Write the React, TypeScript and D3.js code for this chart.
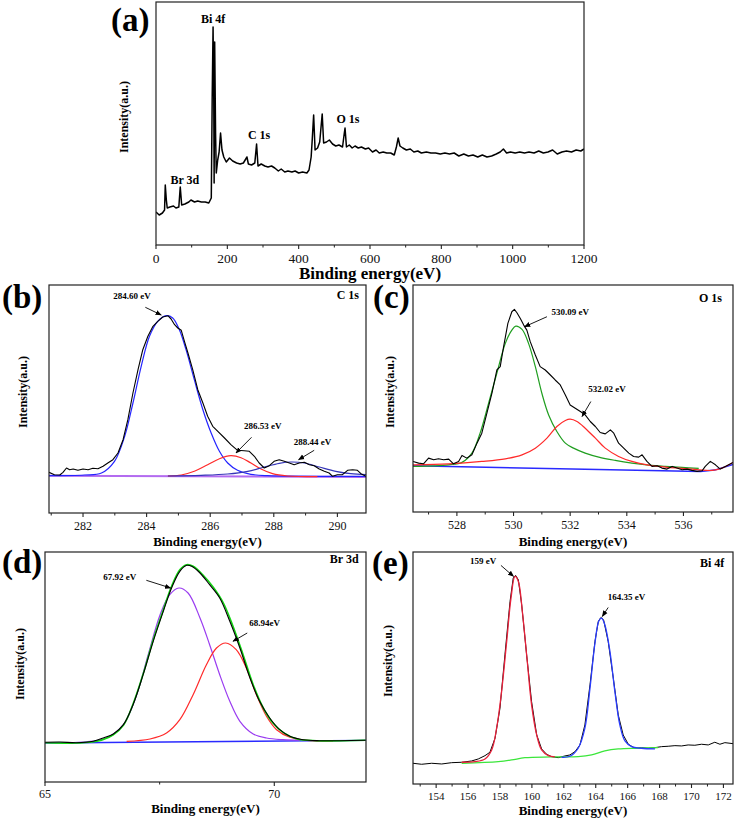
import { useEffect } from 'react';
import * as d3 from 'd3';

type Pt = [number, number];

// (a) survey spectrum, [binding energy eV, intensity a.u.]
const surveySpectrum: Pt[] = [
  [0, 33], [9, 30], [18, 32], [24, 35], [26, 60], [29, 45], [31.5, 37], [39, 38], [49, 39], [56, 37],
  [64, 38], [68, 58], [72, 40], [81, 41], [92, 43], [98, 45], [108, 43], [117, 44], [127, 43], [138, 43],
  [148, 42], [155, 47], [157.5, 145], [160, 218], [162, 145], [163, 62], [164.5, 203], [167, 112], [169, 72],
  [173, 85], [177, 93], [181, 112], [185, 95], [190, 88], [197, 83], [206, 87], [215, 84], [226, 82],
  [236, 81], [245, 82], [255, 88], [259, 81], [268, 80], [277, 82], [282, 101], [286, 79], [295, 81],
  [305, 79], [314, 78], [324, 79], [333, 77], [343, 74], [351, 76], [361, 73], [370, 74], [381, 73],
  [390, 74], [400, 72], [411, 73], [423, 72], [429, 75], [435, 88], [438, 105], [442, 130], [446, 95],
  [453, 97], [459, 103], [466, 131], [470, 102], [478, 103], [486, 105], [495, 101], [504, 99], [513, 100],
  [523, 98], [528, 112], [530, 117], [534, 98], [542, 100], [550, 97], [558, 99], [567, 97], [576, 98],
  [587, 96], [596, 97], [607, 93], [617, 95], [626, 92], [637, 93], [647, 92], [658, 92], [668, 90],
  [674, 98], [679, 107], [684, 99], [692, 97], [702, 95], [713, 96], [723, 93], [734, 94], [744, 92],
  [758, 93], [771, 92], [784, 92], [797, 91], [810, 92], [823, 91], [836, 92], [849, 89], [863, 91],
  [876, 89], [889, 90], [902, 88], [915, 90], [928, 88], [941, 89], [954, 91], [965, 93], [974, 96],
  [983, 92], [994, 93], [1007, 92], [1020, 93], [1033, 92], [1046, 93], [1060, 92], [1073, 94], [1086, 92],
  [1099, 93], [1112, 95], [1125, 91], [1138, 93], [1151, 94], [1165, 93], [1178, 95], [1191, 94], [1200, 96]
];

// (b) C 1s
const c1sRaw: Pt[] = [
  [280.93, 40.7], [281.1, 38.3], [281.27, 38], [281.37, 40.7], [281.48, 45], [281.58, 43.3], [281.69, 44],
  [281.84, 42.7], [282, 44], [282.16, 43.3], [282.31, 44.7], [282.47, 44.3], [282.63, 46.7], [282.78, 50],
  [282.94, 53.3], [283.1, 60], [283.26, 73.3], [283.41, 93.3], [283.57, 120], [283.73, 143.3], [283.88, 163.3],
  [284.04, 176.7], [284.2, 186.7], [284.35, 191.7], [284.51, 196], [284.67, 197.3], [284.77, 194], [284.88, 188.3],
  [284.98, 185], [285.09, 182.7], [285.19, 171.7], [285.3, 160], [285.45, 143.3], [285.61, 123.3], [285.77, 110],
  [285.92, 96.7], [286.08, 86.7], [286.24, 81.7], [286.45, 75], [286.65, 68.3], [286.86, 62.7], [287.07, 62.3],
  [287.23, 61.7], [287.39, 56.7], [287.54, 50], [287.7, 45], [287.86, 47.3], [288.01, 51.7], [288.17, 53.3],
  [288.33, 51.7], [288.49, 50], [288.64, 48.3], [288.8, 50], [288.96, 50.7], [289.12, 48.3], [289.27, 47.3],
  [289.43, 44], [289.59, 41.7], [289.74, 40], [289.85, 36.7], [290, 38.3], [290.16, 38.3], [290.32, 42.7],
  [290.48, 43.3], [290.63, 42.7], [290.74, 39.3], [290.9, 36.7]
];
const c1sPeakA: Pt[] = [
  [280.93, 37.3], [282.05, 38], [282.58, 40], [282.99, 51.7], [283.31, 76.7], [283.57, 110], [283.83, 146.7],
  [284.09, 176.7], [284.35, 191.7], [284.62, 197.3], [284.82, 195], [285.03, 183.3], [285.24, 163.3], [285.5, 133.3],
  [285.77, 103.3], [286.03, 80], [286.29, 61.7], [286.55, 50], [286.86, 42.7], [287.28, 38.7], [287.81, 37.3],
  [290.9, 36.7]
];
const c1sPeakB: Pt[] = [
  [284.67, 37], [285.09, 38], [285.5, 41.7], [285.92, 48.3], [286.29, 54.3], [286.65, 57.3], [286.97, 55.3],
  [287.28, 50], [287.6, 44], [287.96, 39.3], [288.43, 37], [289.37, 36.3]
];
const c1sPeakC: Pt[] = [
  [284.67, 37], [285.71, 37.7], [286.55, 39], [287.18, 41.7], [287.7, 46], [288.17, 49.7], [288.54, 51],
  [288.96, 50], [289.43, 46], [289.95, 41.7], [290.42, 39.3], [290.9, 38.3]
];
const c1sBase: Pt[] = [[280.93, 37.3], [290.9, 36]];

// (c) O 1s
const o1sRaw: Pt[] = [
  [526.45, 50.7], [526.65, 49], [526.82, 48.3], [527, 54], [527.18, 52.3], [527.35, 53.3], [527.53, 52.3],
  [527.71, 53], [527.88, 48.3], [528.06, 50.7], [528.18, 56.7], [528.35, 54], [528.53, 57.3], [528.71, 69],
  [528.88, 79], [529.06, 99], [529.24, 119.3], [529.41, 142.3], [529.53, 145.7], [529.65, 165.7], [529.8, 189],
  [529.94, 200.7], [530.03, 203], [530.12, 199.7], [530.24, 194], [530.36, 187.3], [530.47, 182.3], [530.59, 170.7],
  [530.77, 157.3], [530.94, 145.7], [531.12, 142.3], [531.3, 137.3], [531.47, 132.3], [531.65, 127.3], [531.83, 117.3],
  [532, 107.3], [532.18, 104], [532.36, 100.7], [532.53, 97.3], [532.71, 90.7], [532.89, 85.7], [533.06, 79.7],
  [533.24, 78.3], [533.42, 82.3], [533.54, 79], [533.71, 69], [533.89, 64], [534.07, 59], [534.24, 55.7],
  [534.42, 55], [534.54, 57.3], [534.71, 50.7], [534.89, 45.7], [535.07, 46.3], [535.24, 44], [535.42, 43],
  [535.6, 45.7], [535.77, 44], [535.95, 42.3], [536.13, 43], [536.3, 41.7], [536.48, 40.7], [536.66, 41.3],
  [536.77, 45.7], [536.95, 50.7], [537.13, 47.3], [537.3, 43], [537.48, 45.7], [537.75, 49.7]
];
const o1sPeakA: Pt[] = [
  [526.45, 45.7], [527.71, 47.3], [528.18, 49.7], [528.53, 59], [528.82, 79], [529.12, 109], [529.41, 139],
  [529.71, 169], [529.94, 182.3], [530.08, 186.3], [530.3, 183], [530.53, 169], [530.77, 145.7], [531, 119],
  [531.24, 97.3], [531.53, 80.7], [531.83, 69], [532.12, 64], [532.53, 59], [533.01, 55], [533.59, 51.7],
  [534.18, 49], [534.77, 47], [535.36, 45.7], [535.95, 44.7], [536.54, 43.7]
];
const o1sPeakB: Pt[] = [
  [526.45, 47.3], [527.71, 48.3], [528.88, 50.7], [529.71, 53.3], [530.3, 57.3], [530.77, 64], [531.18, 74],
  [531.53, 85.7], [531.83, 91.7], [532, 93], [532.24, 90.7], [532.53, 84], [532.89, 74], [533.24, 64],
  [533.71, 55.7], [534.18, 50.7], [534.77, 47], [535.36, 45], [535.95, 43.7], [536.54, 42.3], [537.01, 41.7],
  [537.36, 44], [537.75, 49.7]
];
const o1sBase: Pt[] = [[526.45, 46.3], [536.6, 40.7], [537.1, 42], [537.75, 47.7]];

// (d) Br 3d
const br3dRaw: Pt[] = [
  [65, 39.7], [65.33, 40], [65.69, 39.3], [66.05, 40.7], [66.27, 44], [66.49, 48], [66.71, 57.3], [66.92, 77.3],
  [67.14, 107.3], [67.36, 140.7], [67.58, 170.7], [67.76, 194], [67.94, 210.7], [68.09, 216.7], [68.2, 215.7],
  [68.38, 209], [68.59, 197.3], [68.81, 184], [69.03, 160.7], [69.25, 134], [69.47, 104], [69.68, 80.7],
  [69.9, 64], [70.12, 52.3], [70.34, 45.7], [70.63, 42.3], [70.99, 41.3], [71.43, 41.3], [71.99, 41.7]
];
const br3dEnvelope: Pt[] = [
  [65, 39.3], [65.69, 39], [66.13, 40.7], [66.49, 47.3], [66.71, 56.7], [66.92, 78], [67.14, 108], [67.36, 142.3],
  [67.58, 172.3], [67.76, 195.7], [67.94, 212.3], [68.09, 217.3], [68.23, 215.7], [68.45, 206.7], [68.67, 194.7],
  [68.89, 179], [69.1, 155.7], [69.32, 127.3], [69.54, 97.3], [69.76, 74], [69.97, 59], [70.19, 49.7],
  [70.48, 43.3], [70.92, 41.3], [71.99, 41.7]
];
const br3dPeakA: Pt[] = [
  [65, 39.3], [65.84, 40], [66.34, 44], [66.71, 57.3], [67, 87.3], [67.25, 127.3], [67.51, 167.3], [67.72, 187.3],
  [67.92, 194], [68.12, 189], [68.38, 164], [68.59, 137.3], [68.81, 107.3], [69.03, 80.7], [69.25, 60.7],
  [69.54, 48], [69.83, 44], [70.19, 42.3], [70.56, 41.7]
];
const br3dPeakB: Pt[] = [
  [66.78, 40.7], [67.29, 43], [67.65, 49], [67.94, 62.3], [68.23, 87.3], [68.52, 117.3], [68.74, 134], [68.94, 139],
  [69.17, 132.3], [69.39, 114], [69.61, 87.3], [69.83, 65.7], [70.05, 52.3], [70.34, 44.7], [70.7, 41.7], [71.28, 41]
];
const br3dBase: Pt[] = [[65, 39], [72, 41.7]];

// (e) Bi 4f
const bi4fRaw: Pt[] = [
  [152.55, 20.7], [153.09, 19.7], [153.72, 20.7], [154.35, 20], [154.97, 21.3], [155.6, 21.7], [156.22, 23],
  [156.64, 25], [157.06, 28.3], [157.37, 31.7], [157.69, 45.7], [158, 75.7], [158.31, 129], [158.63, 182.3],
  [158.83, 205.7], [158.98, 208.3], [159.15, 204], [159.36, 179], [159.67, 129], [159.98, 82.3], [160.3, 49],
  [160.61, 35], [160.92, 29.7], [161.23, 27.3], [161.65, 26.3], [162.07, 28], [162.38, 29], [162.7, 32.3],
  [163.01, 39], [163.32, 59], [163.64, 99], [163.95, 142.3], [164.16, 162.3], [164.32, 166.3], [164.49, 164],
  [164.78, 142.3], [165.1, 105.7], [165.41, 69], [165.72, 49], [166.04, 39.7], [166.45, 35.7], [166.87, 36.3],
  [167.29, 35.7], [167.71, 36.3], [168.12, 37.3], [168.54, 37.7], [168.96, 38.3], [169.38, 38], [169.79, 39],
  [170.21, 38.7], [170.63, 39.7], [171.05, 39], [171.46, 41.7], [171.78, 39.7], [172.09, 41.3], [172.6, 40.3]
];
const bi4fPeakA: Pt[] = [
  [155.6, 21.7], [156.43, 22.3], [157.06, 25], [157.48, 34], [157.79, 55.7], [158.1, 92.3], [158.42, 142.3],
  [158.69, 185.7], [158.94, 207.3], [159.15, 202.3], [159.4, 172.3], [159.71, 122.3], [159.98, 79], [160.3, 49],
  [160.61, 34], [161.03, 28.3], [161.44, 27]
];
const bi4fPeakB: Pt[] = [
  [161.86, 26.7], [162.38, 27.7], [162.9, 35.7], [163.32, 55.7], [163.64, 95.7], [163.95, 140.7], [164.2, 163],
  [164.37, 165.7], [164.57, 159], [164.89, 132.3], [165.2, 92.3], [165.51, 59], [165.83, 43], [166.25, 37.3],
  [166.87, 35.7], [167.71, 35]
];
const bi4fBase: Pt[] = [
  [155.6, 20.7], [157.89, 22.3], [158.73, 24], [159.56, 26.3], [161.23, 27], [162.9, 27.3], [163.74, 29],
  [164.57, 33], [165.41, 35], [166.66, 35.7], [167.91, 36.3]
];

const FONT = '"Liberation Serif", "Times New Roman", serif';

interface Series { data: Pt[]; color: string; width?: number; smooth?: boolean }
interface Note { text: string; at: Pt; anchor?: 'start' | 'middle' | 'end'; size?: number }
interface Arrow { from: Pt; to: Pt }
interface PanelSpec {
  tag: string; tagPos: [number, number];
  left: number; right: number; top: number; bottom: number;
  xDomain: [number, number]; yDomain: [number, number];
  major: number[]; minor: number[];
  tickFont: number; tickGap: number; titleFont: number; titleGap: number;
  yTitle: [number, number];
  series: Series[]; notes: Note[]; arrows: Arrow[];
}

const specs: PanelSpec[] = [
  {
    tag: '(a)', tagPos: [111, 31], left: 156, right: 584, top: 2, bottom: 245,
    xDomain: [0, 1200], yDomain: [0, 243],
    major: d3.range(0, 1201, 200), minor: d3.range(100, 1200, 200),
    tickFont: 13.5, tickGap: 18, titleFont: 17, titleGap: 34, yTitle: [124, 117],
    series: [{ data: surveySpectrum, color: '#000', width: 1.5 }],
    notes: [
      { text: 'Bi 4f', at: [160, 222], size: 12 },
      { text: 'Br 3d', at: [81, 61], size: 12 },
      { text: 'C 1s', at: [289, 106], size: 12 },
      { text: 'O 1s', at: [538, 122], size: 12 }
    ],
    arrows: []
  },
  {
    tag: '(b)', tagPos: [2, 308], left: 49, right: 366, top: 285, bottom: 513,
    xDomain: [280.93, 290.9], yDomain: [0, 228],
    major: d3.range(282, 291, 2), minor: d3.range(281, 291, 2),
    tickFont: 12, tickGap: 17, titleFont: 13, titleGap: 33, yTitle: [23, 392],
    series: [
      { data: c1sBase, color: '#b36bf0', width: 2 },
      { data: c1sPeakA, color: '#2424ff', smooth: true },
      { data: c1sPeakB, color: '#ff2a2a', smooth: true },
      { data: c1sPeakC, color: '#3535b8', smooth: true },
      { data: c1sRaw, color: '#000', width: 1.1 }
    ],
    notes: [
      { text: '284.60 eV', at: [283.54, 214] },
      { text: '286.53 eV', at: [287.65, 84.3] },
      { text: '288.44 eV', at: [289.22, 67.7] },
      { text: 'C 1s', at: [290.68, 214], anchor: 'end', size: 12 }
    ],
    arrows: [
      { from: [283.96, 205.7], to: [284.46, 198] },
      { from: [287.3, 75.7], to: [286.81, 60] },
      { from: [289.27, 62.7], to: [288.78, 53.3] }
    ]
  },
  {
    tag: '(c)', tagPos: [373, 308], left: 413, right: 733, top: 285, bottom: 512,
    xDomain: [526.45, 537.75], yDomain: [0, 227.5],
    major: d3.range(528, 537, 2), minor: d3.range(527, 538, 2),
    tickFont: 12, tickGap: 17, titleFont: 13, titleGap: 34, yTitle: [390, 392],
    series: [
      { data: o1sBase, color: '#2a2aff', width: 1.5 },
      { data: o1sPeakA, color: '#1f9e1f', smooth: true },
      { data: o1sPeakB, color: '#ff2a2a', smooth: true },
      { data: o1sRaw, color: '#000', width: 1.1 }
    ],
    notes: [
      { text: '530.09 eV', at: [532, 197.3] },
      { text: '532.02 eV', at: [533.3, 120.7] },
      { text: 'O 1s', at: [537.36, 210.3], anchor: 'end', size: 12 }
    ],
    arrows: [
      { from: [531.18, 195.7], to: [530.39, 185.7] },
      { from: [532.73, 110.7], to: [532.42, 95.7] }
    ]
  },
  {
    tag: '(d)', tagPos: [2, 573], left: 45, right: 366, top: 552, bottom: 782,
    xDomain: [65, 72], yDomain: [0, 230],
    major: [65, 70], minor: [67.5],
    tickFont: 12, tickGap: 16, titleFont: 13, titleGap: 31, yTitle: [20, 664],
    series: [
      { data: br3dBase, color: '#2a2aff', width: 1.3 },
      { data: br3dPeakA, color: '#9a3cf0', smooth: true },
      { data: br3dPeakB, color: '#ff2a2a', smooth: true },
      { data: br3dEnvelope, color: '#12d812', width: 1.6, smooth: true },
      { data: br3dRaw, color: '#000', width: 1.1, smooth: true }
    ],
    notes: [
      { text: '67.92 eV', at: [66.63, 201.7] },
      { text: '68.94eV', at: [69.79, 155.7] },
      { text: 'Br 3d', at: [71.84, 219], anchor: 'end', size: 12 }
    ],
    arrows: [
      { from: [67.21, 201.7], to: [67.74, 194] },
      { from: [69.41, 149], to: [69.1, 140.7] }
    ]
  },
  {
    tag: '(e)', tagPos: [372, 574], left: 413, right: 733, top: 552, bottom: 784,
    xDomain: [152.55, 172.6], yDomain: [0, 231.7],
    major: d3.range(154, 173, 2), minor: d3.range(153, 173, 2),
    tickFont: 11, tickGap: 16, titleFont: 13, titleGap: 31, yTitle: [388, 661],
    series: [
      { data: bi4fRaw, color: '#000', width: 1 },
      { data: bi4fBase, color: '#3be63b', width: 1.3, smooth: true },
      { data: bi4fPeakA, color: '#e8203a', width: 1.3, smooth: true },
      { data: bi4fPeakB, color: '#2a3cff', width: 1.3, smooth: true }
    ],
    notes: [
      { text: '159 eV', at: [156.95, 220] },
      { text: '164.35 eV', at: [165.93, 184] },
      { text: 'Bi 4f', at: [172.05, 216.3], anchor: 'end', size: 12 }
    ],
    arrows: [
      { from: [158.06, 218.3], to: [158.85, 207.3] },
      { from: [164.78, 176.3], to: [164.41, 167.3] }
    ]
  }
];

function Panel({ spec, id }: { spec: PanelSpec; id: string }) {
  const x = d3.scaleLinear().domain(spec.xDomain).range([spec.left, spec.right]);
  const y = d3.scaleLinear().domain(spec.yDomain).range([spec.bottom, spec.top]);
  const line = (smooth?: boolean) =>
    d3.line<Pt>()
      .x((d) => x(d[0]))
      .y((d) => y(d[1]))
      .curve(smooth ? d3.curveCatmullRom.alpha(0.5) : d3.curveLinear);
  const inDomain = (v: number) => v >= spec.xDomain[0] - 1e-6 && v <= spec.xDomain[1] + 1e-6;

  return (
    <g>
      <clipPath id={id}>
        <rect x={spec.left} y={spec.top} width={spec.right - spec.left} height={spec.bottom - spec.top} />
      </clipPath>
      <g clipPath={`url(#${id})`}>
        {spec.series.map((s, i) => (
          <path key={i} d={line(s.smooth)(s.data) || ''} fill="none" stroke={s.color}
            strokeWidth={s.width ?? 1.2} strokeLinejoin="round" />
        ))}
      </g>
      <rect x={spec.left} y={spec.top} width={spec.right - spec.left} height={spec.bottom - spec.top}
        fill="none" stroke="#222" strokeWidth={1.2} />
      {spec.major.filter(inDomain).map((t) => (
        <g key={`M${t}`}>
          <line x1={x(t)} x2={x(t)} y1={spec.bottom} y2={spec.bottom + 4} stroke="#222" strokeWidth={1.1} />
          <text x={x(t)} y={spec.bottom + spec.tickGap} textAnchor="middle" fontSize={spec.tickFont}
            fontFamily={FONT} fill="#111">{t}</text>
        </g>
      ))}
      {spec.minor.filter(inDomain).map((t) => (
        <line key={`m${t}`} x1={x(t)} x2={x(t)} y1={spec.bottom} y2={spec.bottom + 2.5} stroke="#222" strokeWidth={1} />
      ))}
      <text x={(spec.left + spec.right) / 2} y={spec.bottom + spec.titleGap} textAnchor="middle"
        fontSize={spec.titleFont} fontWeight="bold" fontFamily={FONT}>Binding energy(eV)</text>
      <text transform={`translate(${spec.yTitle[0]},${spec.yTitle[1]}) rotate(-90)`} textAnchor="middle"
        dominantBaseline="central" fontSize={12} fontWeight="bold" fontFamily={FONT}>Intensity(a.u.)</text>
      <text x={spec.tagPos[0]} y={spec.tagPos[1]} fontSize={33} fontWeight="bold" fontFamily={FONT}>{spec.tag}</text>
      {spec.notes.map((n, i) => (
        <text key={i} x={x(n.at[0])} y={y(n.at[1])} textAnchor={n.anchor ?? 'middle'} fontSize={n.size ?? 9}
          fontWeight="bold" fontFamily={FONT}>{n.text}</text>
      ))}
      {spec.arrows.map((a, i) => (
        <line key={i} x1={x(a.from[0])} y1={y(a.from[1])} x2={x(a.to[0])} y2={y(a.to[1])}
          stroke="#000" strokeWidth={0.9} markerEnd="url(#arrowHead)" />
      ))}
    </g>
  );
}

export default function App() {
  useEffect(() => {
    document.body.style.margin = '0';
  }, []);

  return (
    <svg width={734} height={821} style={{ display: 'block', background: '#fff' }}>
      <defs>
        <marker id="arrowHead" viewBox="0 0 10 10" refX="9" refY="5" markerWidth="7" markerHeight="7" orient="auto">
          <path d="M0,1 L10,5 L0,9 z" fill="#000" />
        </marker>
      </defs>
      {specs.map((s, i) => (
        <Panel key={s.tag} spec={s} id={`clip-${i}`} />
      ))}
    </svg>
  );
}
